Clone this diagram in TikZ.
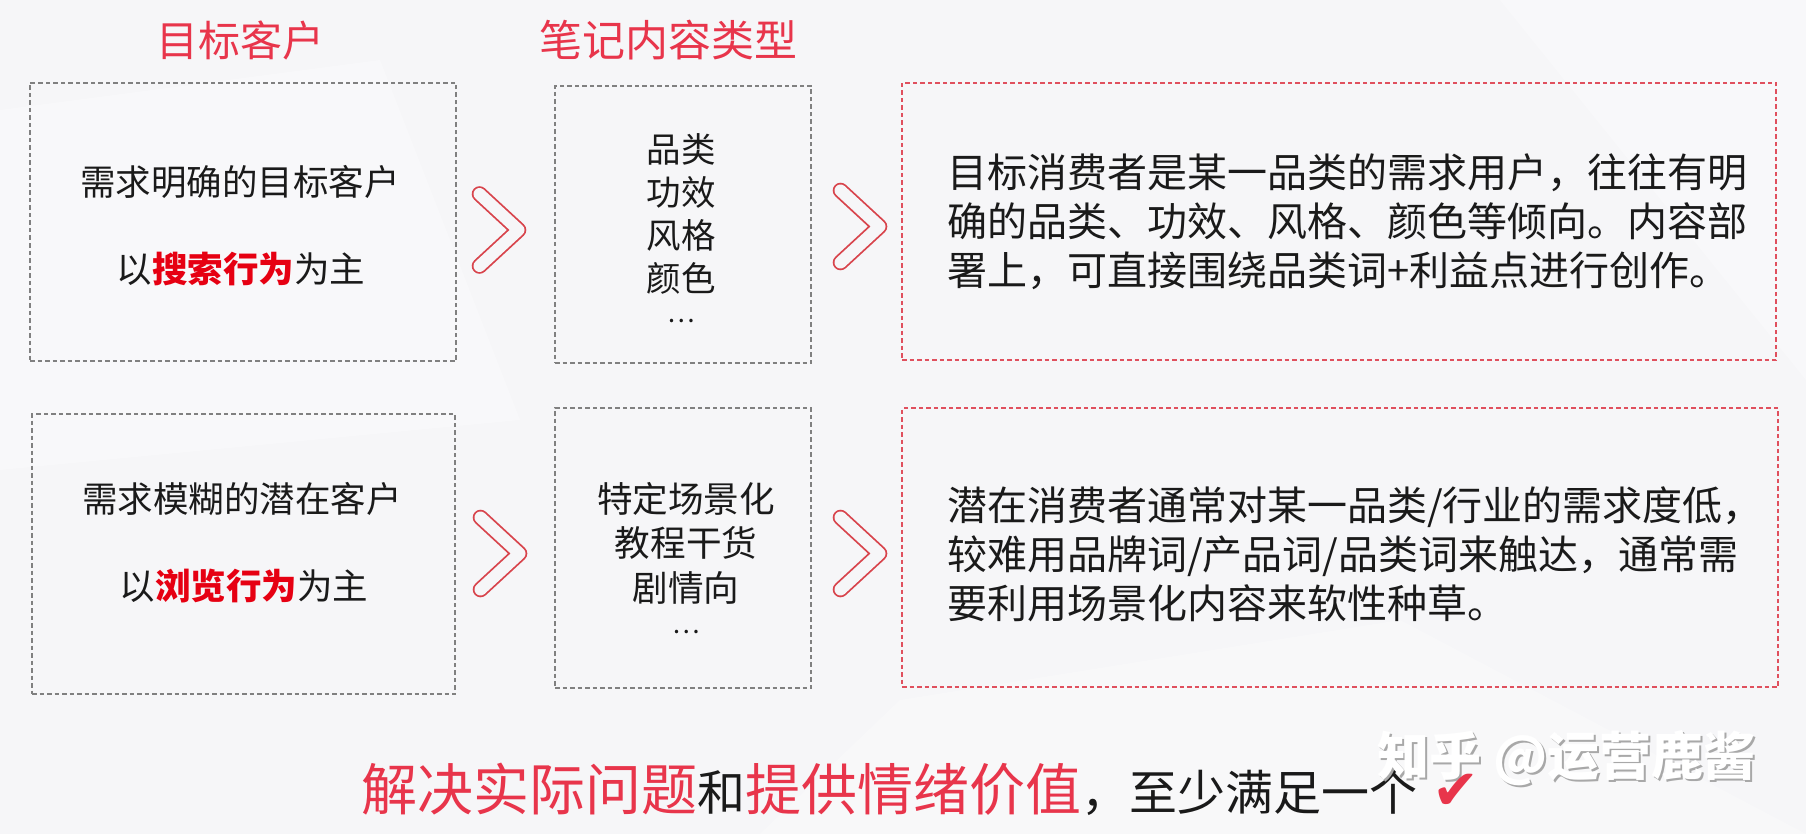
\documentclass[tikz,border=0pt]{standalone}
\usepackage{fontspec}
\newfontfamily\cjk{Noto Sans CJK SC}
\newfontfamily\djv{DejaVu Sans}
\usetikzlibrary{calc}
\definecolor{bg}{HTML}{F6F6F8}
\definecolor{titlered}{HTML}{E8354B}
\definecolor{hotred}{HTML}{E60012}
\definecolor{boxgray}{HTML}{808080}
\definecolor{boxred}{HTML}{E0505E}
\definecolor{chevred}{HTML}{D8444C}
\definecolor{ink}{HTML}{1A1A1A}
\definecolor{wmgray}{HTML}{A8A8A8}
\newcommand{\fsz}[2]{\fontsize{#1pt}{#2pt}\selectfont}
\newcommand{\moredots}{\raisebox{12pt}{\fsz{26}{26}…}}
\tikzset{
  grayframe/.style={draw=boxgray, line width=1.3pt, dash pattern=on 4.5pt off 3pt, inner sep=0pt},
  redframe/.style={draw=boxred, line width=1.3pt, dash pattern=on 4.5pt off 3pt, inner sep=0pt},
  chev/.style={draw=chevred, line width=1.8pt, double=bg, double distance=12pt, line cap=round, line join=round},
  txt/.style={font=\cjk, text=ink, inner sep=0pt},
  title/.style={font=\cjk\fsz{42}{50}, text=titlered, inner sep=0pt},
}
\begin{document}
\begin{tikzpicture}[x=1pt,y=-1pt]
\fill[bg] (0,0) rectangle (1806,834);
\useasboundingbox (0,0) rectangle (1806,834);
% faint background facets
\fill[white, opacity=0.3] (0,110) -- (380,60) -- (520,420) -- (0,470) -- cycle;
\fill[white, opacity=0.3] (1500,0) -- (1806,0) -- (1806,380) -- cycle;
\fill[white, opacity=0.25] (900,700) -- (1400,620) -- (1806,834) -- (760,834) -- cycle;

% titles
\node[title] (t1) at (240,40) {目标客户};
\node[title, font=\cjk\fsz{43}{50}] (t2) at (668,40) {笔记内容类型};

% frames
\node[grayframe, minimum width=426pt, minimum height=278pt] (b1) at (243,222) {};
\node[grayframe, minimum width=256pt, minimum height=277pt] (b2) at (683,224.5) {};
\node[redframe, minimum width=874pt, minimum height=277pt] (b3) at (1339,221.5) {};
\node[grayframe, minimum width=423pt, minimum height=280pt] (b4) at (243.5,554) {};
\node[grayframe, minimum width=256pt, minimum height=280pt] (b5) at (683,548) {};
\node[redframe, minimum width=876pt, minimum height=279pt] (b6) at (1340,547.5) {};

% row 1 texts
\node[txt, font=\cjk\fsz{35.5}{43}] (a1) at (240,182) {需求明确的目标客户};
\node[txt, font=\cjk\fsz{35.5}{43}] (a2) at (241,269) {以{\bfseries\color{hotred}搜索行为}为主};
\node[txt, font=\cjk\fsz{34.5}{43}, align=center] (m1) at (681,234) {品类\\功效\\风格\\颜色\\\moredots};
\node[txt, font=\cjk\fsz{40}{49}, align=left, anchor=west] (d1) at (947,222) {目标消费者是某一品类的需求用户，往往有明\\确的品类、功效、风格、颜色等倾向。内容部\\署上，可直接围绕品类词+利益点进行创作。};

% row 2 texts
\node[txt, font=\cjk\fsz{35.5}{43}] (a3) at (242,499) {需求模糊的潜在客户};
\node[txt, font=\cjk\fsz{35.5}{43}] (a4) at (244,586) {以{\bfseries\color{hotred}浏览行为}为主};
\node[txt, font=\cjk\fsz{35.6}{44.5}, align=center] (m2) at (686,564) {特定场景化\\教程干货\\剧情向\\\moredots};
\node[txt, font=\cjk\fsz{40}{49}, align=left, anchor=west] (d2) at (947,554) {潜在消费者通常对某一品类/行业的需求度低，\\较难用品牌词/产品词/品类词来触达，通常需\\要利用场景化内容来软性种草。};

% chevrons
\coordinate (c1) at (518.5,230);
\coordinate (c2) at (879.5,226.5);
\coordinate (c3) at (519.5,553.5);
\coordinate (c4) at (879.5,553.5);
\foreach \c in {c1,c2,c3,c4}{
  \draw[chev] ($(\c)+(-39,-36)$) -- (\c) -- ($(\c)+(-39,36)$);
}

% bottom line
\node[txt, anchor=base west] (bl) at (361,810) {\fsz{56}{60}\color{titlered}解决实际问题\color{ink}\fsz{48}{56}和\fsz{56}{60}\color{titlered}提供情绪价值\color{ink}\fsz{48}{56}，至少满足一个};

% watermark
\node[inner sep=0pt, text=wmgray, font=\cjk\bfseries\fsz{52}{56}] (wm0) at (1568.5,760) {知乎 @运营鹿酱};
\node[inner sep=0pt, text=white, font=\cjk\bfseries\fsz{52}{56}] (wm) at (1566.5,758) {知乎 @运营鹿酱};

\node[inner sep=0pt, text=titlered, font=\djv\fsz{56}{56}] (ck) at (1456,792) {✔};
\end{tikzpicture}
\end{document}
